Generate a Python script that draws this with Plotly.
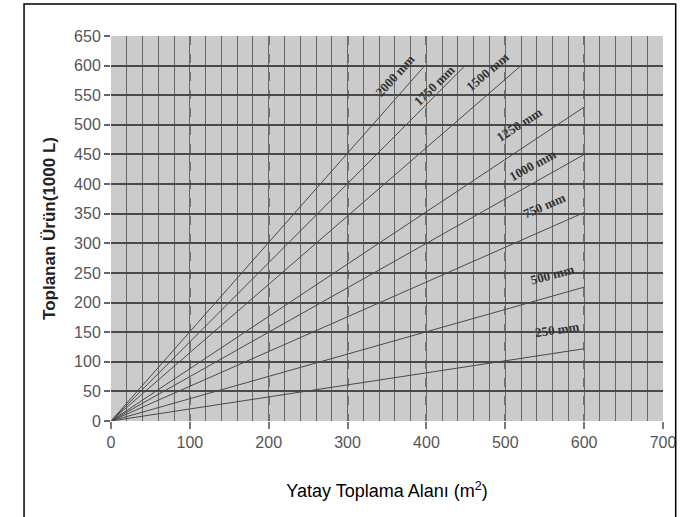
import math
import plotly.graph_objects as go

rain_labels = ["250 mm", "500 mm", "750 mm", "1000 mm", "1250 mm", "1500 mm", "1750 mm", "2000 mm"]
start_x = [0, 0, 0, 0, 0, 0, 0, 0]
start_y = [0, 0, 0, 0, 0, 0, 0, 0]
end_x = [600, 600, 600, 600, 600, 520, 449, 398]
end_y = [122, 226, 352, 450, 530, 600, 600, 600]
label_x = [566, 560, 550, 534, 518, 478, 410, 360]
label_y = [154, 248, 364, 432, 500, 590, 566, 584]

x_ticks = [0, 100, 200, 300, 400, 500, 600, 700]
y_ticks = list(range(0, 651, 50))

# pixel geometry of plot area
L, R, T, B = 111, 8, 36, 96
W, H = 684, 517
pw, ph = W - L - R, H - T - B
xr, yr = 700, 650

fig = go.Figure()
for i, name in enumerate(rain_labels):
    fig.add_trace(go.Scatter(
        x=[start_x[i], end_x[i]], y=[start_y[i], end_y[i]], mode="lines",
        line=dict(color="#4a4a4a", width=1), name=name, showlegend=False,
        hoverinfo="skip"))
    sx = end_x[i] / xr * pw
    sy = end_y[i] / yr * ph
    ang = math.degrees(math.atan2(sy, sx))
    fig.add_annotation(x=label_x[i], y=label_y[i], text="<b>%s</b>" % rain_labels[i],
                       showarrow=False, textangle=-ang,
                       font=dict(family="Liberation Serif, Times New Roman, serif", size=13, color="#333"))

tickfont = dict(family="Liberation Sans Narrow, Arial Narrow, Liberation Sans", size=16, color="#555")
fig.update_layout(
    width=W, height=H,
    margin=dict(l=L, r=R, t=T, b=B, pad=0),
    paper_bgcolor="white", plot_bgcolor="#cbcbcb",
    xaxis=dict(range=[0, xr], tickvals=x_ticks, showgrid=True, gridcolor="#707070",
               griddash="dash", gridwidth=1.5,
               minor=dict(dtick=20, showgrid=True, gridcolor="#666666", gridwidth=1.2, griddash="solid"),
               ticks="outside", ticklen=7, tickcolor="#777", tickwidth=1.5,
               zeroline=False, showline=False, ticklabeloverflow="allow",
               tickfont=tickfont,
               title=dict(text="Yatay Toplama Alanı (m<sup>2</sup>)", standoff=34,
                          font=dict(family="Liberation Sans, Arial", size=18, color="black"))),
    yaxis=dict(range=[0, yr], tickvals=y_ticks, showgrid=True, gridcolor="#4a4a4a", gridwidth=1.5,
               ticks="outside", ticklen=6, tickcolor="#666", tickwidth=1.5,
               zeroline=False, showline=False,
               tickfont=tickfont,
               title=dict(text="<b>Toplanan Ürün(1000 L)</b>", standoff=14,
                          font=dict(family="Liberation Sans, Arial", size=17, color="#222"))),
)

# outer frame of the figure
fig.add_shape(type="rect", xref="paper", yref="paper",
              x0=(22 - L) / pw, x1=(W + 5 - L) / pw,
              y0=-(H + 5 - (T + ph)) / ph, y1=(T + ph - 4) / ph,
              line=dict(color="black", width=1.5), layer="above")

fig.write_html("out.html", config={"displayModeBar": False},
               post_script="document.body.style.margin='0px';")
